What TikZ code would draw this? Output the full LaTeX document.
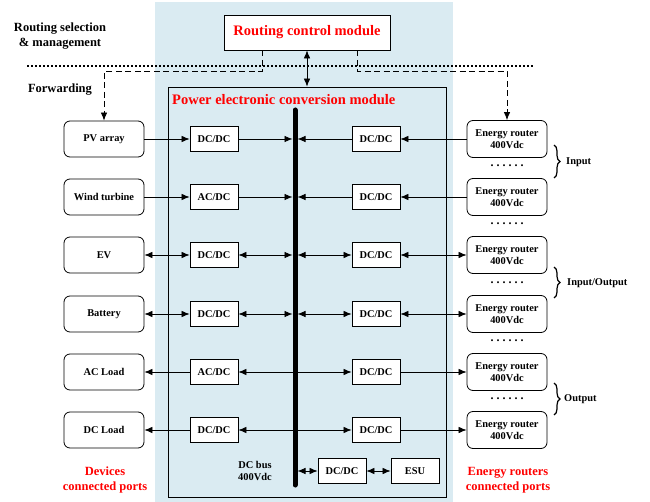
\documentclass[tikz,border=0pt]{standalone}
\usepackage{fontspec}
\setmainfont{Liberation Serif}
\usetikzlibrary{arrows.meta,decorations.pathreplacing,calc}
\definecolor{bgblue}{RGB}{218,235,242}
\begin{document}
\begin{tikzpicture}[x=1pt,y=-1pt,
  >={Latex[length=8pt,width=6.5pt]},
  txt/.style={font=\fontsize{10.4}{12.5}\selectfont\bfseries},
  box/.style={txt,draw,line width=0.8pt,fill=white,inner sep=0pt},
  conv/.style={box,minimum width=48pt,minimum height=25pt},
  dev/.style={box,rounded corners=6pt,minimum width=80pt,minimum height=36pt,align=center},
  router/.style={box,rounded corners=6pt,minimum width=80pt,minimum height=37pt,align=center},
  conn/.style={line width=0.7pt},
  ctrl/.style={line width=0.8pt,dash pattern=on 6pt off 3.5pt},
  title/.style={font=\fontsize{14.5}{16}\selectfont\bfseries,text=red},
  lbl/.style={font=\fontsize{12.5}{15}\selectfont\bfseries,align=center},
  rlbl/.style={lbl,text=red},
  dots/.style={font=\fontsize{12}{12}\selectfont\bfseries},
  brace/.style={decorate,decoration={brace,amplitude=6pt},line width=1.2pt},
]
\useasboundingbox (0,0) rectangle (650,502);
\fill[bgblue] (155,2) rectangle (453,502);

% modules
\node (rcm) [draw,line width=0.8pt,fill=white,minimum width=166pt,minimum height=35pt,inner sep=0pt,title] at (307,32.5) {Routing control module};
\node (pem) [draw,line width=0.8pt,minimum width=278pt,minimum height=410pt,inner sep=0pt] at (307,292) {};
\node (pemt) [title,anchor=west,inner sep=0pt] at (172,100) {Power electronic conversion module};

% side labels
\node (rsm) [lbl] at (60,36.5) {Routing selection\\\& management};
\node (fwd) [lbl] at (60,90) {Forwarding};

% dotted separation line
\coordinate (dotL) at (27,66);
\coordinate (dotR) at (534,66);
\draw[line width=1.1pt,dash pattern=on 2pt off 2pt] (dotL) -- (dotR);

% DC bus
\coordinate (bus) at (295,110);
\coordinate (busb) at (295,485);
\draw[line width=5pt,line cap=round] (bus) -- (busb);

% devices
\node (dev1) [dev] at (104,139) {PV array};
\node (dev2) [dev] at (104,197) {Wind turbine};
\node (dev3) [dev] at (104,255) {EV};
\node (dev4) [dev] at (104,314) {Battery};
\node (dev5) [dev] at (104,372) {AC Load};
\node (dev6) [dev] at (104,430) {DC Load};

% left converters
\node (lc1) [conv] at (214,139) {DC/DC};
\node (lc2) [conv] at (214,197) {AC/DC};
\node (lc3) [conv] at (214,255) {DC/DC};
\node (lc4) [conv] at (214,314) {DC/DC};
\node (lc5) [conv] at (214,372) {AC/DC};
\node (lc6) [conv] at (214,430) {DC/DC};

% right converters
\node (rc1) [conv] at (376,139) {DC/DC};
\node (rc2) [conv] at (376,197) {DC/DC};
\node (rc3) [conv] at (376,255) {DC/DC};
\node (rc4) [conv] at (376,314) {DC/DC};
\node (rc5) [conv] at (376,372) {DC/DC};
\node (rc6) [conv] at (376,430) {DC/DC};

% energy routers
\node (er1) [router] at (507,139) {Energy router\\400Vdc};
\node (er2) [router] at (507,197) {Energy router\\400Vdc};
\node (er3) [router] at (507,255) {Energy router\\400Vdc};
\node (er4) [router] at (507,314) {Energy router\\400Vdc};
\node (er5) [router] at (507,372) {Energy router\\400Vdc};
\node (er6) [router] at (507,430) {Energy router\\400Vdc};

% dots between routers
\newcommand\sixdots{.\hspace{3pt}.\hspace{3pt}.\hspace{3pt}.\hspace{3pt}.\hspace{3pt}.}
\node (d1) [dots] at (507,166) {\sixdots};
\node (d2) [dots] at (507,224) {\sixdots};
\node (d3) [dots] at (507,282.5) {\sixdots};
\node (d4) [dots] at (507,341) {\sixdots};
\node (d5) [dots] at (507,399) {\sixdots};

% braces
\draw[brace] (554,145) -- (554,178);
\node (inp) [txt,anchor=west,inner sep=0pt] at (566,162) {Input};
\draw[brace] (554,267) -- (554,298);
\node (io) [txt,anchor=west,inner sep=0pt] at (567,283) {Input/Output};
\draw[brace] (554,383) -- (554,415);
\node (outp) [txt,anchor=west,inner sep=0pt] at (564,399) {Output};

% bottom storage
\node (bdc) [conv] at (342,471) {DC/DC};
\node (esu) [conv] at (415,471) {ESU};
\node (busl) [txt,align=center] at (255,471) {DC bus\\400Vdc};

% bottom red labels
\node (devl) [rlbl] at (105,480) {Devices\\connected ports};
\node (erl) [rlbl] at (508,480) {Energy routers\\connected ports};

% control connections
\draw[ctrl,->] ([xshift=-45pt]rcm.south) -- ++(0,21) -| (dev1.north);
\draw[ctrl,->] ([xshift=50pt]rcm.south) -- ++(0,21) -| (er1.north);
\draw[conn,<->] (rcm.south) -- (rcm.south |- pem.north);

% row 1 and 2: inputs
\draw[conn,->] (dev1) -- (lc1);
\draw[conn,->,shorten >=2.5pt] (lc1) -- (lc1 -| bus);
\draw[conn,->] (er1) -- (rc1);
\draw[conn,->,shorten >=2.5pt] (rc1) -- (rc1 -| bus);
\draw[conn,->] (dev2) -- (lc2);
\draw[conn,->,shorten >=2.5pt] (lc2) -- (lc2 -| bus);
\draw[conn,->] (er2) -- (rc2);
\draw[conn,->,shorten >=2.5pt] (rc2) -- (rc2 -| bus);

% rows 3 and 4: bidirectional
\draw[conn,<->] (dev3) -- (lc3);
\draw[conn,<->,shorten >=2.5pt] (lc3) -- (lc3 -| bus);
\draw[conn,<->] (er3) -- (rc3);
\draw[conn,<->,shorten >=2.5pt] (rc3) -- (rc3 -| bus);
\draw[conn,<->] (dev4) -- (lc4);
\draw[conn,<->,shorten >=2.5pt] (lc4) -- (lc4 -| bus);
\draw[conn,<->] (er4) -- (rc4);
\draw[conn,<->,shorten >=2.5pt] (rc4) -- (rc4 -| bus);

% rows 5 and 6: outputs
\draw[conn,->] (lc5) -- (dev5);
\draw[conn,->,shorten <=2.5pt] (lc5 -| bus) -- (lc5);
\draw[conn,->] (rc5) -- (er5);
\draw[conn,->,shorten <=2.5pt] (rc5 -| bus) -- (rc5);
\draw[conn,->] (lc6) -- (dev6);
\draw[conn,->,shorten <=2.5pt] (lc6 -| bus) -- (lc6);
\draw[conn,->] (rc6) -- (er6);
\draw[conn,->,shorten <=2.5pt] (rc6 -| bus) -- (rc6);

% storage
\draw[conn,<->,shorten <=2.5pt] (bdc -| bus) -- (bdc);
\draw[conn,<->] (bdc) -- (esu);
\end{tikzpicture}
\end{document}
